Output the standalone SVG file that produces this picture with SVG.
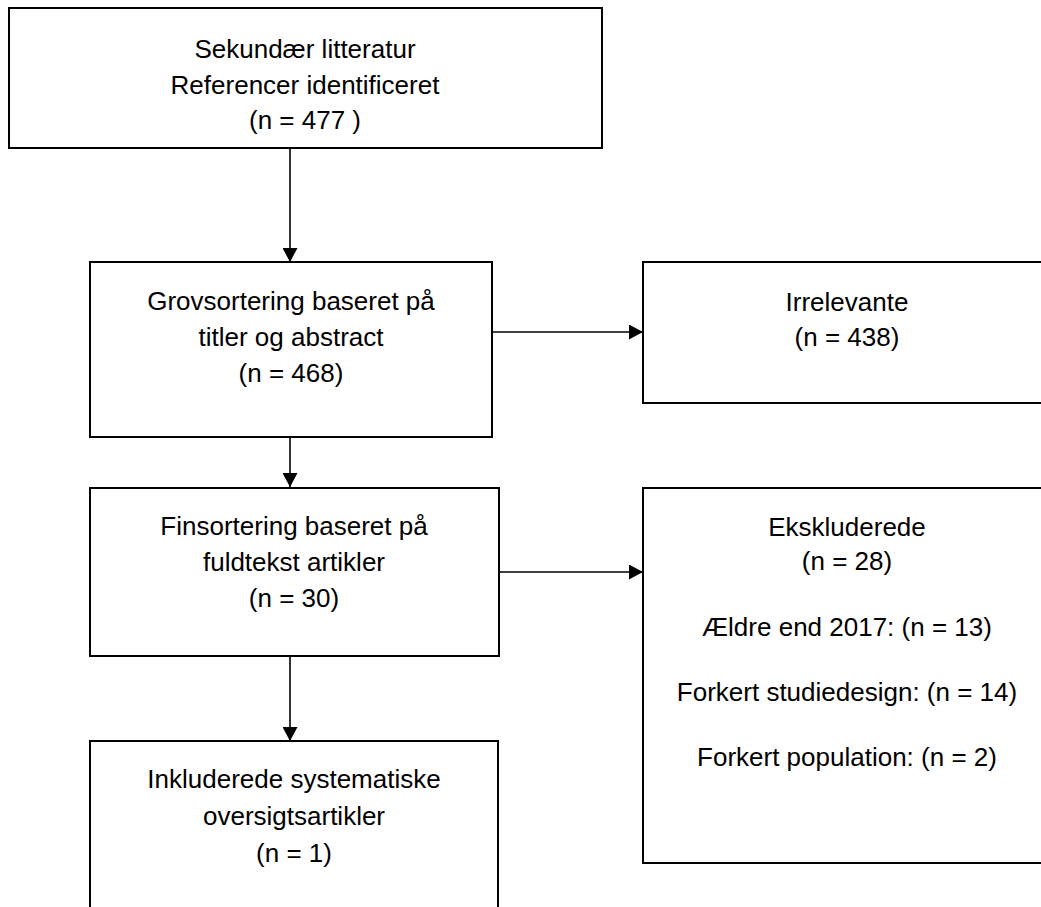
<svg xmlns="http://www.w3.org/2000/svg" width="1041" height="907" viewBox="0 0 1041 907">
  <style>
    .box { fill: #ffffff; stroke: #000000; stroke-width: 2; }
    .lbl { font-family: "Liberation Sans", Arial, sans-serif; font-size: 26px; fill: #000000; text-anchor: middle; }
    .conn { stroke: #000000; stroke-width: 1.6; fill: none; }
  </style>
  <defs>
    <marker id="arrow" markerUnits="userSpaceOnUse" markerWidth="15" markerHeight="15" refX="14" refY="7.5" orient="auto">
      <path d="M0,0 L14,7.5 L0,15 z" fill="#000000"/>
    </marker>
  </defs>
  <rect width="1041" height="907" fill="#ffffff"/>

  <g id="connectors">
    <line class="conn" x1="290" y1="149" x2="290" y2="262" marker-end="url(#arrow)"/>
    <line class="conn" x1="290" y1="438" x2="290" y2="487" marker-end="url(#arrow)"/>
    <line class="conn" x1="290" y1="657" x2="290" y2="741" marker-end="url(#arrow)"/>
    <line class="conn" x1="493" y1="332" x2="643" y2="332" marker-end="url(#arrow)"/>
    <line class="conn" x1="500" y1="572" x2="643" y2="572" marker-end="url(#arrow)"/>
  </g>

  <g id="node-sekundaer">
    <rect class="box" x="9" y="8" width="593" height="140"/>
    <text class="lbl" x="305" y="58">Sekundær litteratur</text>
    <text class="lbl" x="305" y="94">Referencer identificeret</text>
    <text class="lbl" x="305" y="129">(n = 477 )</text>
  </g>

  <g id="node-grovsortering">
    <rect class="box" x="90" y="262" width="402" height="175"/>
    <text class="lbl" x="291" y="310">Grovsortering baseret på</text>
    <text class="lbl" x="291" y="346">titler og abstract</text>
    <text class="lbl" x="291" y="382">(n = 468)</text>
  </g>

  <g id="node-irrelevante">
    <rect class="box" x="643" y="262" width="410" height="141"/>
    <text class="lbl" x="847" y="311">Irrelevante</text>
    <text class="lbl" x="847" y="346">(n = 438)</text>
  </g>

  <g id="node-finsortering">
    <rect class="box" x="90" y="488" width="409" height="168"/>
    <text class="lbl" x="294" y="535">Finsortering baseret på</text>
    <text class="lbl" x="294" y="571">fuldtekst artikler</text>
    <text class="lbl" x="294" y="607">(n = 30)</text>
  </g>

  <g id="node-ekskluderede">
    <rect class="box" x="643" y="488" width="410" height="375"/>
    <text class="lbl" x="847" y="536">Ekskluderede</text>
    <text class="lbl" x="847" y="570">(n = 28)</text>
    <text class="lbl" x="847" y="636">Ældre end 2017: (n = 13)</text>
    <text class="lbl" x="847" y="701">Forkert studiedesign: (n = 14)</text>
    <text class="lbl" x="847" y="766">Forkert population: (n = 2)</text>
  </g>

  <g id="node-inkluderede">
    <rect class="box" x="90" y="741" width="408" height="180"/>
    <text class="lbl" x="294" y="788">Inkluderede systematiske</text>
    <text class="lbl" x="294" y="825">oversigtsartikler</text>
    <text class="lbl" x="294" y="862">(n = 1)</text>
  </g>
</svg>
